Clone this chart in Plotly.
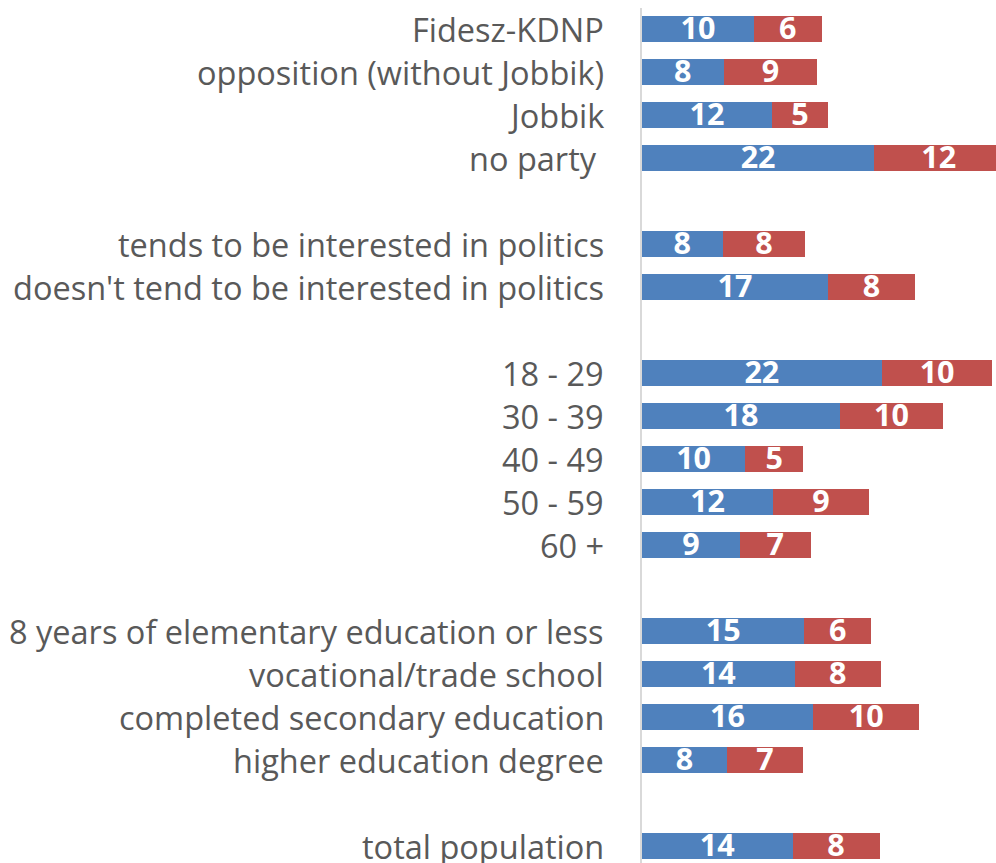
import plotly.graph_objects as go

# Row labels (None = blank spacer row)
categories = [
    "Fidesz-KDNP", "opposition (without Jobbik)", "Jobbik", "no party\u00a0",
    None,
    "tends to be interested in politics", "doesn't tend to be interested in politics",
    None,
    "18 - 29", "30 - 39", "40 - 49", "50 - 59", "60 +",
    None,
    "8 years of elementary education or less", "vocational/trade school",
    "completed secondary education", "higher education degree",
    None,
    "total population",
]

series_blue = [10.4, 7.6, 12.1, 21.6, None, 7.5, 17.3, None,
               22.3, 18.4, 9.6, 12.2, 9.1, None,
               15.1, 14.2, 15.9, 7.9, None, 14.0]
series_red = [6.3, 8.7, 5.2, 12.0, None, 7.7, 8.1, None,
              10.3, 9.6, 5.4, 8.9, 6.6, None,
              6.2, 8.0, 9.9, 7.1, None, 8.1]

BLUE = "#4F81BD"
RED = "#C0504D"

rows = list(range(len(categories)))


def lab(v):
    return "" if v is None else str(int(v + 0.5))


fig = go.Figure()
fig.add_trace(go.Bar(y=rows, x=series_blue, orientation="h", marker_color=BLUE,
                     marker_line_width=0, width=0.6, textposition="none",
                     hoverinfo="skip", showlegend=False))
fig.add_trace(go.Bar(y=rows, x=series_red, orientation="h", marker_color=RED,
                     marker_line_width=0, width=0.6, textposition="none",
                     hoverinfo="skip", showlegend=False))

# data labels centred in each segment
lx, ly, lt = [], [], []
for i, (b, r) in enumerate(zip(series_blue, series_red)):
    if b is None:
        continue
    lx += [b / 2, b + r / 2]
    ly += [i + 0.06, i + 0.06]
    lt += [lab(b), lab(r)]
fig.add_trace(go.Scatter(x=lx, y=ly, text=lt, mode="text", textposition="middle center",
                         textfont=dict(family="Open Sans", size=30.5, color="white",
                                       weight="bold"),
                         hoverinfo="skip", showlegend=False, cliponaxis=True))

# category labels
for i, c in enumerate(categories):
    if c is None:
        continue
    fig.add_annotation(x=0, xref="paper", y=i, yref="y", text=c, showarrow=False,
                       xanchor="right", yanchor="middle", xshift=-36,
                       font=dict(family="Open Sans", size=32.5, color="#595959"))

W, H = 996, 863
left = 642
scale = 10.75  # px per unit
fig.update_layout(
    width=W, height=H, barmode="stack",
    margin=dict(l=left, r=0, t=8, b=0, pad=0),
    plot_bgcolor="white", paper_bgcolor="white",
    xaxis=dict(range=[0, (W - left) / scale], visible=False, fixedrange=True),
    yaxis=dict(range=[(H - 29) / 43, -(29 - 8) / 43], showticklabels=False,
               showgrid=False, zeroline=False, fixedrange=True,
               showline=True, linecolor="#D9D9D9", linewidth=2, ticks=""),
)
fig.write_html("out.html", config={"displayModeBar": False},
               post_script="document.body.style.margin='0';document.body.style.overflow='hidden';")
